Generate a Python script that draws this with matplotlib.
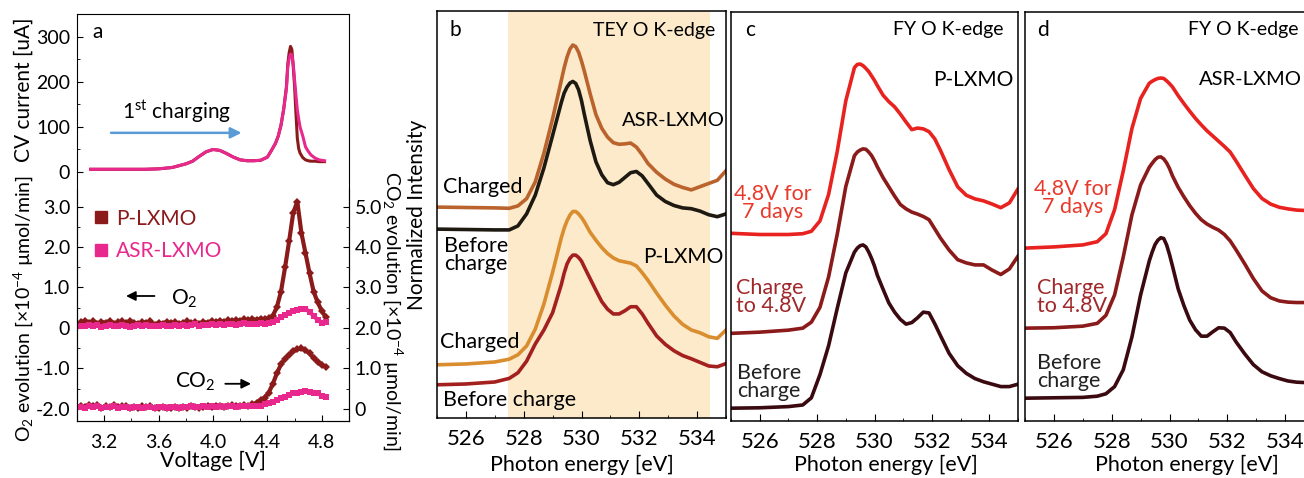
import matplotlib
matplotlib.use("Agg")
import matplotlib.pyplot as plt
from matplotlib.ticker import MultipleLocator
from matplotlib.lines import Line2D

plt.rcParams["font.family"] = ["Lato", "DejaVu Sans"]
plt.rcParams["mathtext.fontset"] = "custom"
plt.rcParams["mathtext.rm"] = "Lato"
plt.rcParams["mathtext.it"] = "Lato:italic"
plt.rcParams["mathtext.bf"] = "Lato:bold"
plt.rcParams["lines.solid_joinstyle"] = "round"

# ---------------- panel a: CV + gas evolution ----------------
cv_voltage = [3.10, 3.20, 3.30, 3.40, 3.50, 3.60, 3.70, 3.80, 3.85, 3.90, 3.95, 4.00,
              4.05, 4.10, 4.15, 4.20, 4.25, 4.30, 4.35, 4.40, 4.43, 4.46, 4.48, 4.50,
              4.52, 4.54, 4.55, 4.56, 4.57, 4.58, 4.59, 4.60, 4.61, 4.62, 4.63, 4.64,
              4.66, 4.68, 4.70, 4.72, 4.75, 4.78, 4.82]
cv_asr = [6, 6, 6, 6, 6, 7, 10, 18, 24, 35, 45, 50,
          48, 41, 33, 27, 25, 25, 26, 33, 48, 64, 80, 104,
          140, 185, 234, 252, 262, 260, 240, 204, 170, 138, 118, 100,
          80, 56, 46, 38, 31, 27, 25]
cv_p = [6, 6, 6, 6, 6, 7, 10, 18, 24, 35, 45, 50,
        48, 41, 33, 27, 25, 25, 26, 33, 48, 64, 80, 104,
        140, 190, 240, 265, 279, 272, 234, 190, 130, 75, 52, 42,
        32, 27, 25, 24, 24, 23, 23]

gas_voltage = [3.03, 3.06, 3.09, 3.12, 3.15, 3.18, 3.21, 3.24, 3.27, 3.30, 3.33, 3.36,
               3.39, 3.42, 3.45, 3.48, 3.51, 3.54, 3.57, 3.60, 3.63, 3.66, 3.69, 3.72,
               3.75, 3.78, 3.81, 3.84, 3.87, 3.90, 3.93, 3.96, 3.99, 4.02, 4.05, 4.08,
               4.11, 4.14, 4.17, 4.20, 4.23, 4.26, 4.29, 4.32, 4.35, 4.38, 4.41, 4.44,
               4.47, 4.50, 4.53, 4.56, 4.59, 4.62, 4.65, 4.68, 4.71, 4.74, 4.77, 4.80, 4.83]
o2_p = [0.14, 0.18, 0.12, 0.16, 0.10, 0.15, 0.13, 0.17, 0.11, 0.14, 0.16, 0.12,
        0.18, 0.13, 0.10, 0.15, 0.12, 0.16, 0.08, 0.13, 0.11, 0.15, 0.12, 0.14,
        0.10, 0.13, 0.16, 0.12, 0.14, 0.11, 0.15, 0.13, 0.17, 0.14, 0.18, 0.15,
        0.19, 0.16, 0.20, 0.18, 0.21, 0.19, 0.22, 0.20, 0.23, 0.22, 0.24, 0.30,
        0.52, 0.90, 1.50, 2.15, 2.85, 3.12, 2.35, 1.85, 1.35, 0.90, 0.63, 0.42, 0.26]
o2_asr = [0.06, 0.04, 0.08, 0.05, 0.07, 0.03, 0.06, 0.08, 0.05, 0.04, 0.07, 0.06,
          0.03, 0.06, 0.08, 0.05, 0.07, 0.04, 0.06, 0.05, 0.08, 0.06, 0.04, 0.07,
          0.06, 0.08, 0.05, 0.07, 0.09, 0.06, 0.08, 0.07, 0.09, 0.08, 0.10, 0.07,
          0.09, 0.11, 0.08, 0.10, 0.12, 0.09, 0.11, 0.10, 0.12, 0.11, 0.12, 0.14,
          0.20, 0.26, 0.32, 0.37, 0.41, 0.45, 0.48, 0.47, 0.40, 0.30, 0.20, 0.13, 0.15]
co2_p = [0.08, 0.04, 0.10, 0.06, 0.09, 0.03, 0.07, 0.05, 0.09, 0.04, 0.06, 0.08,
         0.03, 0.05, 0.02, 0.06, 0.04, 0.07, 0.03, 0.02, 0.05, 0.03, 0.01, 0.04,
         0.02, 0.05, 0.03, 0.06, 0.04, 0.02, 0.05, 0.07, 0.04, 0.06, 0.08, 0.05,
         0.07, 0.09, 0.06, 0.08, 0.10, 0.08, 0.11, 0.15, 0.22, 0.28, 0.40, 0.62,
         0.88, 1.10, 1.24, 1.34, 1.42, 1.47, 1.50, 1.45, 1.37, 1.26, 1.16, 1.08, 1.04]
co2_asr = [0.05, 0.03, 0.06, 0.04, 0.06, 0.02, 0.05, 0.04, 0.06, 0.03, 0.05, 0.04,
           0.02, 0.04, 0.05, 0.03, 0.05, 0.04, 0.02, 0.04, 0.05, 0.03, 0.04, 0.05,
           0.03, 0.05, 0.04, 0.06, 0.04, 0.05, 0.06, 0.04, 0.06, 0.05, 0.07, 0.05,
           0.06, 0.07, 0.05, 0.07, 0.06, 0.08, 0.07, 0.08, 0.08, 0.11, 0.14, 0.18,
           0.22, 0.26, 0.30, 0.35, 0.39, 0.40, 0.42, 0.43, 0.42, 0.40, 0.38, 0.33, 0.30]

# ---------------- panels b-d: O K-edge spectra (offset, arb. units) ----------------
energy = [525.0, 526.0, 527.0, 527.5, 527.8, 528.1, 528.4, 528.7, 529.0, 529.3, 529.4,
          529.5, 529.6, 529.7, 529.8, 529.9, 530.0, 530.1, 530.3, 530.5, 530.7, 530.9,
          531.1, 531.3, 531.5, 531.7, 531.9, 532.1, 532.3, 532.6, 532.9, 533.2, 533.5,
          533.8, 534.1, 534.4, 534.7, 535.0]

tey_asr_charged = [5.27, 5.26, 5.25, 5.24, 5.30, 5.48, 5.90, 6.62, 7.48, 8.43, 8.75,
                   9.02, 9.22, 9.32, 9.28, 9.14, 8.92, 8.66, 8.10, 7.58, 7.24, 7.02,
                   6.88, 6.84, 6.85, 6.87, 6.77, 6.58, 6.36, 6.14, 5.97, 5.84, 5.76,
                   5.70, 5.78, 5.86, 5.94, 6.18]
tey_asr_before = [4.72, 4.71, 4.70, 4.70, 4.80, 5.10, 5.57, 6.25, 7.06, 7.88, 8.12,
                  8.27, 8.37, 8.41, 8.36, 8.20, 7.93, 7.58, 6.93, 6.40, 6.08, 5.88,
                  5.83, 5.89, 6.01, 6.13, 6.16, 6.05, 5.86, 5.57, 5.41, 5.31, 5.25,
                  5.23, 5.17, 5.08, 5.03, 5.10]
tey_p_charged = [1.33, 1.35, 1.40, 1.47, 1.58, 1.80, 2.22, 2.85, 3.64, 4.50, 4.74,
                 4.93, 5.07, 5.16, 5.16, 5.10, 5.01, 4.90, 4.64, 4.44, 4.26, 4.11,
                 4.00, 3.93, 3.90, 3.87, 3.80, 3.63, 3.44, 3.12, 2.82, 2.55, 2.34,
                 2.20, 2.13, 2.03, 1.99, 2.20]
tey_p_before = [0.83, 0.85, 0.90, 0.99, 1.13, 1.42, 1.85, 2.20, 2.63, 3.33, 3.62,
                3.85, 3.99, 4.07, 4.07, 4.01, 3.92, 3.77, 3.48, 3.19, 2.91, 2.72,
                2.60, 2.60, 2.68, 2.78, 2.78, 2.60, 2.37, 2.05, 1.84, 1.68, 1.56,
                1.48, 1.39, 1.30, 1.28, 1.36]

fy_p_7days = [4.69, 4.66, 4.66, 4.68, 4.74, 5.00, 5.66, 6.73, 8.00, 8.83, 8.91,
              8.92, 8.88, 8.81, 8.73, 8.62, 8.51, 8.38, 8.14, 7.98, 7.85, 7.67,
              7.47, 7.28, 7.32, 7.30, 7.23, 7.05, 6.76, 6.28, 5.85, 5.64, 5.55,
              5.50, 5.42, 5.33, 5.45, 5.80]
fy_p_charged = [2.19, 2.22, 2.27, 2.32, 2.47, 2.84, 3.60, 4.66, 5.86, 6.63, 6.72,
                6.77, 6.80, 6.79, 6.72, 6.63, 6.50, 6.35, 6.08, 5.85, 5.62, 5.41,
                5.30, 5.22, 5.17, 5.11, 5.03, 4.80, 4.57, 4.27, 4.03, 3.95, 3.90,
                3.90, 3.77, 3.66, 3.80, 4.12]
fy_p_before = [0.32, 0.33, 0.36, 0.40, 0.58, 1.16, 1.88, 2.81, 3.70, 4.22, 4.32,
               4.38, 4.40, 4.35, 4.22, 4.06, 3.87, 3.64, 3.29, 2.95, 2.72, 2.54,
               2.42, 2.46, 2.58, 2.72, 2.70, 2.43, 2.13, 1.69, 1.38, 1.19, 1.06,
               0.98, 0.92, 0.86, 0.86, 0.92]

fy_asr_7days = [4.32, 4.35, 4.40, 4.48, 4.68, 5.28, 6.25, 7.31, 8.06, 8.44, 8.49,
                8.53, 8.56, 8.57, 8.56, 8.50, 8.43, 8.35, 8.13, 7.93, 7.74, 7.56,
                7.40, 7.25, 7.12, 6.99, 6.86, 6.72, 6.50, 6.15, 5.81, 5.56, 5.42,
                5.34, 5.30, 5.27, 5.26, 5.27]
fy_asr_charged = [2.32, 2.33, 2.37, 2.44, 2.64, 3.15, 4.10, 5.15, 5.90, 6.34, 6.44,
                  6.53, 6.59, 6.60, 6.55, 6.45, 6.31, 6.13, 5.84, 5.60, 5.38, 5.19,
                  5.03, 4.92, 4.84, 4.77, 4.66, 4.50, 4.28, 3.93, 3.56, 3.25, 3.08,
                  3.00, 2.97, 2.96, 2.96, 2.96]
fy_asr_before = [0.57, 0.58, 0.59, 0.62, 0.68, 0.86, 1.28, 2.10, 3.15, 4.00, 4.22,
                 4.41, 4.52, 4.58, 4.56, 4.40, 4.16, 3.88, 3.30, 2.88, 2.52, 2.28,
                 2.12, 2.12, 2.23, 2.33, 2.32, 2.21, 1.98, 1.68, 1.41, 1.23, 1.13,
                 1.06, 1.00, 0.97, 0.96, 0.96]

P_COL = "#8B1A1A"
ASR_COL = "#E8288C"
W, H = 1304, 478


def box(l, t, r, b):
    return [l / W, (H - b) / H, (r - l) / W, (b - t) / H]


fig = plt.figure(figsize=(13.04, 4.78), dpi=100)

# ---- panel a
ax_cv = fig.add_axes(box(77, 14, 349, 190))
ax_gas = fig.add_axes(box(77, 190, 349, 421))
ax_co2 = ax_gas.twinx()

ax_cv.plot(cv_voltage, cv_p, color=P_COL, lw=2.2)
ax_cv.plot(cv_voltage, cv_asr, color=ASR_COL, lw=2.2)
ax_cv.set_xlim(3.0, 5.0)
ax_cv.set_ylim(-40, 351)
ax_cv.spines["bottom"].set_visible(False)
ax_cv.set_xticks([])
ax_cv.set_yticks([0, 100, 200, 300])
ax_cv.yaxis.set_minor_locator(MultipleLocator(50))
ax_cv.tick_params(axis="y", which="both", direction="in", labelsize=14, pad=5)
ax_cv.tick_params(axis="y", which="major", length=4)
ax_cv.tick_params(axis="y", which="minor", length=2.5)
ax_cv.text(0.075, 0.9, "a", transform=ax_cv.transAxes, fontsize=15, ha="center", va="center")
ax_cv.annotate("", xy=(4.23, 87), xytext=(3.23, 87),
               arrowprops=dict(arrowstyle="-|>", color="#5B9BD5", lw=1.8, mutation_scale=16))
ax_cv.text(3.73, 133, "1$^{\\mathrm{st}}$ charging", fontsize=15, ha="center", va="center")

mk = dict(lw=3, ms=4.5, mew=0)
ax_gas.plot(gas_voltage, o2_p, color=P_COL, marker="D", **mk)
ax_gas.plot(gas_voltage, o2_asr, color=ASR_COL, marker="s", **mk)
ax_co2.plot(gas_voltage, co2_p, color=P_COL, marker="D", **mk)
ax_co2.plot(gas_voltage, co2_asr, color=ASR_COL, marker="s", **mk)
ax_gas.set_xlim(3.0, 5.0)
ax_gas.set_ylim(-2.3, 3.41)
ax_co2.set_ylim(-0.3, 5.41)
ax_gas.spines["top"].set_visible(False)
ax_co2.spines["top"].set_visible(False)
ax_gas.set_yticks([-2, -1, 0, 1, 2, 3])
ax_gas.set_yticklabels(["-2.0", "-1.0", "0", "1.0", "2.0", "3.0"])
ax_co2.set_yticks([0, 1, 2, 3, 4, 5])
ax_co2.set_yticklabels(["0", "1.0", "2.0", "3.0", "4.0", "5.0"])
ax_gas.set_xticks([3.2, 3.6, 4.0, 4.4, 4.8])
ax_gas.xaxis.set_minor_locator(MultipleLocator(0.2))
ax_gas.yaxis.set_minor_locator(MultipleLocator(0.5))
ax_co2.yaxis.set_minor_locator(MultipleLocator(0.5))
for a in (ax_gas, ax_co2):
    a.tick_params(which="both", direction="in", labelsize=14)
    a.tick_params(which="major", length=4)
    a.tick_params(which="minor", length=2.5)
ax_gas.tick_params(axis="x", pad=9)
ax_gas.tick_params(axis="y", pad=5)
ax_co2.tick_params(axis="y", pad=4)
ax_gas.set_xlabel("Voltage [V]", fontsize=15.5)
ax_gas.xaxis.set_label_coords(0.5, -0.13)

ax_gas.annotate("", xy=(3.34, 0.79), xytext=(3.59, 0.79),
                arrowprops=dict(arrowstyle="-|>", color="black", lw=1.3, mutation_scale=14))
ax_gas.text(3.69, 0.72, "O$_2$", fontsize=15, ha="left", va="center")
ax_gas.text(3.72, -1.33, "CO$_2$", fontsize=15, ha="left", va="center")
ax_gas.annotate("", xy=(4.30, -1.38), xytext=(4.07, -1.38),
                arrowprops=dict(arrowstyle="-|>", color="black", lw=1.3, mutation_scale=14))

handles = [Line2D([], [], color=P_COL, marker="s", ls="none", ms=8),
           Line2D([], [], color=ASR_COL, marker="s", ls="none", ms=8)]
ax_gas.legend(handles, ["P-LXMO", "ASR-LXMO"], loc="upper left", bbox_to_anchor=(0.02, 0.955),
              frameon=False, fontsize=15, handletextpad=0.2, borderaxespad=0,
              labelspacing=0.6, handlelength=1.0, labelcolor=[P_COL, ASR_COL])

fig.text(24 / W, 1 - 90 / H, "CV current [uA]", rotation=90, fontsize=15, ha="center", va="center")
fig.text(23 / W, 1 - 308 / H, "O$_2$ evolution [×10$^{-4}$ µmol/min]", rotation=90,
         fontsize=14, ha="center", va="center")
fig.text(393 / W, 1 - 311 / H, "CO$_2$ evolution [×10$^{-4}$ µmol/min]", rotation=270,
         fontsize=14, ha="center", va="center")


def spectra_axes(rect, ylim):
    ax = fig.add_axes(rect)
    ax.set_xlim(525, 535)
    ax.set_ylim(0, ylim)
    ax.set_yticks([])
    ax.set_xticks([526, 528, 530, 532, 534])
    ax.xaxis.set_minor_locator(MultipleLocator(1))
    ax.tick_params(axis="x", which="both", direction="in", labelsize=16, pad=8, top=False)
    ax.tick_params(axis="x", which="major", length=5)
    ax.tick_params(axis="x", which="minor", length=2.5)
    for s in ax.spines.values():
        s.set_linewidth(1.1)
    ax.set_xlabel("Photon energy [eV]", fontsize=15.5)
    return ax


# ---- panel b
ax_b = spectra_axes(box(437, 11, 726, 418), 10.17)
ax_b.axvspan(527.47, 534.46, color="#FCEACB", lw=0, zorder=0)
ax_b.plot(energy, tey_asr_charged, color="#BA632C", lw=2.6)
ax_b.plot(energy, tey_asr_before, color="#1E1A12", lw=2.6)
ax_b.plot(energy, tey_p_charged, color="#D98D2E", lw=2.6)
ax_b.plot(energy, tey_p_before, color="#A4201F", lw=2.6)
ax_b.set_ylabel("Normalized Intensity", fontsize=15)
ax_b.yaxis.set_label_coords(-0.035, 0.5)
ax_b.xaxis.set_label_coords(0.5, -0.09)
ax_b.text(0.062, 0.953, "b", transform=ax_b.transAxes, fontsize=15, ha="center", va="center")
ax_b.text(0.962, 0.953, "TEY O K-edge", transform=ax_b.transAxes, fontsize=14, ha="right", va="center")
ax_b.text(0.64, 0.732, "ASR-LXMO", transform=ax_b.transAxes, fontsize=14.5, ha="left", va="center")
ax_b.text(0.021, 0.568, "Charged", transform=ax_b.transAxes, fontsize=15.5, ha="left", va="center")
ax_b.text(0.024, 0.40, "Before\ncharge", transform=ax_b.transAxes, fontsize=15.5, ha="left",
          va="center", linespacing=0.85)
ax_b.text(0.713, 0.396, "P-LXMO", transform=ax_b.transAxes, fontsize=15, ha="left", va="center")
ax_b.text(0.010, 0.187, "Charged", transform=ax_b.transAxes, fontsize=15.5, ha="left", va="center")
ax_b.text(0.021, 0.044, "Before charge", transform=ax_b.transAxes, fontsize=15.5, ha="left", va="center")

RED7 = "#E8221F"
RED48 = "#8B1A1A"
DARK = "#3A0A10"

# ---- panel c
ax_c = spectra_axes(box(731, 12, 1018, 421), 10.22)
ax_c.plot(energy, fy_p_7days, color=RED7, lw=2.6)
ax_c.plot(energy, fy_p_charged, color=RED48, lw=2.6)
ax_c.plot(energy, fy_p_before, color=DARK, lw=2.6)
ax_c.xaxis.set_label_coords(0.54, -0.083)
ax_c.text(0.066, 0.956, "c", transform=ax_c.transAxes, fontsize=15, ha="center", va="center")
ax_c.text(0.948, 0.956, "FY O K-edge", transform=ax_c.transAxes, fontsize=14, ha="right", va="center")
ax_c.text(0.704, 0.834, "P-LXMO", transform=ax_c.transAxes, fontsize=15, ha="left", va="center")
ax_c.text(0.146, 0.533, "4.8V for\n7 days", transform=ax_c.transAxes, fontsize=15.5, ha="center",
          va="center", color="#E8392A", linespacing=0.9)
ax_c.text(0.017, 0.303, "Charge\nto 4.8V", transform=ax_c.transAxes, fontsize=15.5, ha="left",
          va="center", color="#A0282A", linespacing=0.9)
ax_c.text(0.021, 0.095, "Before\ncharge", transform=ax_c.transAxes, fontsize=15.5, ha="left",
          va="center", color="#222222", linespacing=0.85)

# ---- panel d (right edge runs past the figure, as in the original)
ax_d = spectra_axes(box(1025, 12, 1314, 421), 10.22)
ax_d.plot(energy, fy_asr_7days, color=RED7, lw=2.6)
ax_d.plot(energy, fy_asr_charged, color=RED48, lw=2.6)
ax_d.plot(energy, fy_asr_before, color=DARK, lw=2.6)
ax_d.xaxis.set_label_coords(0.56, -0.083)
ax_d.text(0.062, 0.956, "d", transform=ax_d.transAxes, fontsize=15, ha="center", va="center")
ax_d.text(0.945, 0.956, "FY O K-edge", transform=ax_d.transAxes, fontsize=14, ha="right", va="center")
ax_d.text(0.603, 0.834, "ASR-LXMO", transform=ax_d.transAxes, fontsize=14.5, ha="left", va="center")
ax_d.text(0.166, 0.545, "4.8V for\n7 days", transform=ax_d.transAxes, fontsize=15.5, ha="center",
          va="center", color="#E8392A", linespacing=0.9)
ax_d.text(0.042, 0.303, "Charge\nto 4.8V", transform=ax_d.transAxes, fontsize=15.5, ha="left",
          va="center", color="#A0282A", linespacing=0.9)
ax_d.text(0.042, 0.12, "Before\ncharge", transform=ax_d.transAxes, fontsize=15.5, ha="left",
          va="center", color="#222222", linespacing=0.85)

fig.savefig("out.png", dpi=100)
